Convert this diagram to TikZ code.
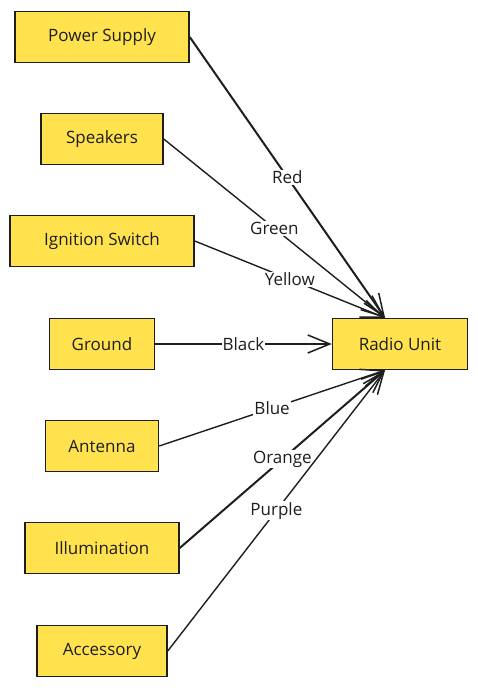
\documentclass[tikz,border=0pt]{standalone}
\usepackage{fontspec}
\setmainfont{Open Sans}
\usetikzlibrary{arrows.meta}
\definecolor{boxyellow}{RGB}{255,226,77}
\definecolor{inkblack}{RGB}{30,30,30}

\begin{document}
\begin{tikzpicture}[x=1pt,y=-1pt]
    \tikzstyle{box}=[draw=inkblack, fill=boxyellow, line width=1.5pt, minimum height=51pt, inner sep=0pt, text=inkblack, font=\fontsize{17}{20}\selectfont]
    \tikzstyle{wire}=[inkblack, line width=1.4pt, -{Straight Barb[length=22pt,width=18pt,line width=1.5pt]}]
    \tikzstyle{heavy}=[line width=2pt]
    \tikzstyle{lbl}=[fill=white, inner sep=1pt, text=inkblack, font=\fontsize{17}{20}\selectfont]
    \useasboundingbox (0,0) rectangle (478,688);
    % sources on the left
    \node[box, minimum width=174pt] (power) at (102,37) {Power Supply};
    \node[box, minimum width=122pt] (speakers) at (102,139) {Speakers};
    \node[box, minimum width=184pt] (ignition) at (102,241) {Ignition Switch};
    \node[box, minimum width=105pt] (ground) at (102,344) {Ground};
    \node[box, minimum width=113pt] (antenna) at (102,446) {Antenna};
    \node[box, minimum width=154pt] (illum) at (102,548) {Illumination};
    \node[box, minimum width=130pt] (accessory) at (102,651) {Accessory};
    % target
    \node[box, minimum width=135pt] (radio) at (400,344) {Radio Unit};
    % wires
    \draw[wire, heavy] (power.east) -- node[lbl] {Red} ([xshift=-15pt]radio.north);
    \draw[wire] (speakers.east) -- node[lbl] {Green} ([xshift=-15pt]radio.north);
    \draw[wire] (ignition.east) -- node[lbl] {Yellow} ([xshift=-15pt]radio.north);
    \draw[wire, heavy] (ground.east) -- node[lbl] {Black} (radio.west);
    \draw[wire] (antenna.east) -- node[lbl] {Blue} ([xshift=-15pt]radio.south);
    \draw[wire, heavy] (illum.east) -- node[lbl] {Orange} ([xshift=-15pt]radio.south);
    \draw[wire] (accessory.east) -- node[lbl] {Purple} ([xshift=-15pt]radio.south);
\end{tikzpicture}
\end{document}
